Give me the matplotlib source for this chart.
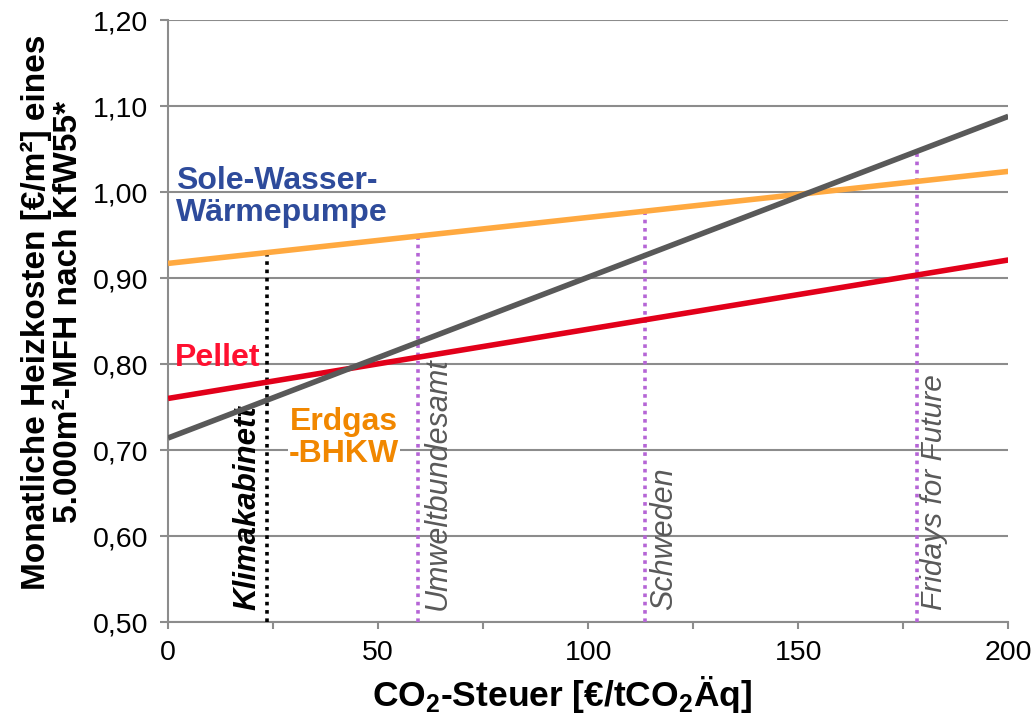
import matplotlib
matplotlib.use("Agg")
import matplotlib.pyplot as plt
from matplotlib.ticker import MultipleLocator
import numpy as np

plt.rcParams['font.family'] = ['Liberation Sans', 'DejaVu Sans']
plt.rcParams['mathtext.fontset'] = 'custom'
plt.rcParams['mathtext.rm'] = 'Liberation Sans'
plt.rcParams['mathtext.bf'] = 'Liberation Sans:bold'

# Data: linear cost curves over the CO2 price
co2_price = [0, 200]
erdgas_bhkw = [0.714, 1.088]
pellet = [0.760, 0.921]
waermepumpe = [0.917, 1.024]

# CO2 price scenarios (vertical markers)
scenario_names = ["Klimakabinett", "Umweltbundesamt", "Schweden", "Fridays for Future"]
scenario_prices = [23.6, 59.5, 113.6, 178.3]

y_ticks = [0.50, 0.60, 0.70, 0.80, 0.90, 1.00, 1.10, 1.20]

grid_col = "#8c8c8c"

fig = plt.figure(figsize=(10.31, 7.15), dpi=100)
ax = fig.add_axes([0.163, 0.130, 0.815, 0.842])

# gridlines
for yv in y_ticks:
    ax.axhline(yv, color=grid_col, lw=1.5, zorder=1)

# scenario markers up to the highest curve
for name, p in zip(scenario_names, scenario_prices):
    top = max(np.interp(p, co2_price, s) for s in (erdgas_bhkw, pellet, waermepumpe))
    col = "black" if name == "Klimakabinett" else "#b565d6"
    ax.plot([p, p], [0.5, top], color=col, lw=2.6, linestyle=(0, (1, 1.3)), zorder=2)

ax.text(18.8, 0.514, "Klimakabinett", rotation=90, ha="center", va="bottom",
        fontsize=22.5, fontweight="bold", style="italic", color="black", zorder=3)
ax.text(64.3, 0.514, "Umweltbundesamt", rotation=90, ha="center", va="bottom",
        fontsize=22, style="italic", color="#595959", zorder=3)
ax.text(118, 0.514, "Schweden", rotation=90, ha="center", va="bottom",
        fontsize=22, style="italic", color="#595959", zorder=3)
ax.text(182.4, 0.514, "Fridays for Future", rotation=90, ha="center", va="bottom",
        fontsize=21.5, style="italic", color="#595959", zorder=3)

# curves
ax.plot(co2_price, waermepumpe, color="#ffa940", lw=4, solid_capstyle="butt", zorder=4)
ax.plot(co2_price, pellet, color="#e2001a", lw=4, solid_capstyle="butt", zorder=4)
ax.plot(co2_price, erdgas_bhkw, color="#595959", lw=4, solid_capstyle="butt", zorder=4)

# series labels
ax.text(2.0, 0.994, "Sole-Wasser-\nWärmepumpe", ha="left", va="center",
        fontsize=23, fontweight="bold", color="#2e4b9b", linespacing=1.1, zorder=5)
ax.text(1.7, 0.7977, "Pellet", ha="left", va="baseline",
        fontsize=23, fontweight="bold", color="#ff1030", zorder=5)
ax.text(41.9, 0.714, "Erdgas\n-BHKW", ha="center", va="center", multialignment="center",
        fontsize=23, fontweight="bold", color="#f18700", linespacing=1.1, zorder=5,
        bbox=dict(facecolor="white", edgecolor="none", pad=1))

ax.set_xlim(0, 200)
ax.set_ylim(0.5, 1.2)
ax.set_yticks(y_ticks)
ax.set_yticklabels([f"{v:.2f}".replace(".", ",") for v in y_ticks])
ax.xaxis.set_major_locator(MultipleLocator(50))
ax.xaxis.set_minor_locator(MultipleLocator(25))

for s in ["top", "right"]:
    ax.spines[s].set_visible(False)
for s in ["left", "bottom"]:
    ax.spines[s].set_color(grid_col)
    ax.spines[s].set_linewidth(1.5)
    ax.spines[s].set_zorder(1)

ax.tick_params(axis="both", which="both", direction="out", color=grid_col, width=1.5)
ax.tick_params(axis="y", length=6, labelsize=20.5, pad=8)
ax.tick_params(axis="x", which="both", length=5, labelsize=20.5, pad=8)

ax.text(0.469, -0.121, "CO$_\\mathbf{2}$-Steuer [€/tCO$_\\mathbf{2}$Äq]", transform=ax.transAxes,
        ha="center", va="center", fontsize=25.5, fontweight="bold")
ax.text(-0.138, 0.515, "Monatliche Heizkosten [€/m²] eines\n5.000m²-MFH nach KfW55*",
        transform=ax.transAxes, rotation=90, ha="center", va="center",
        multialignment="center", fontsize=24, fontweight="bold", linespacing=1.05)

fig.savefig("out.png", dpi=100)
